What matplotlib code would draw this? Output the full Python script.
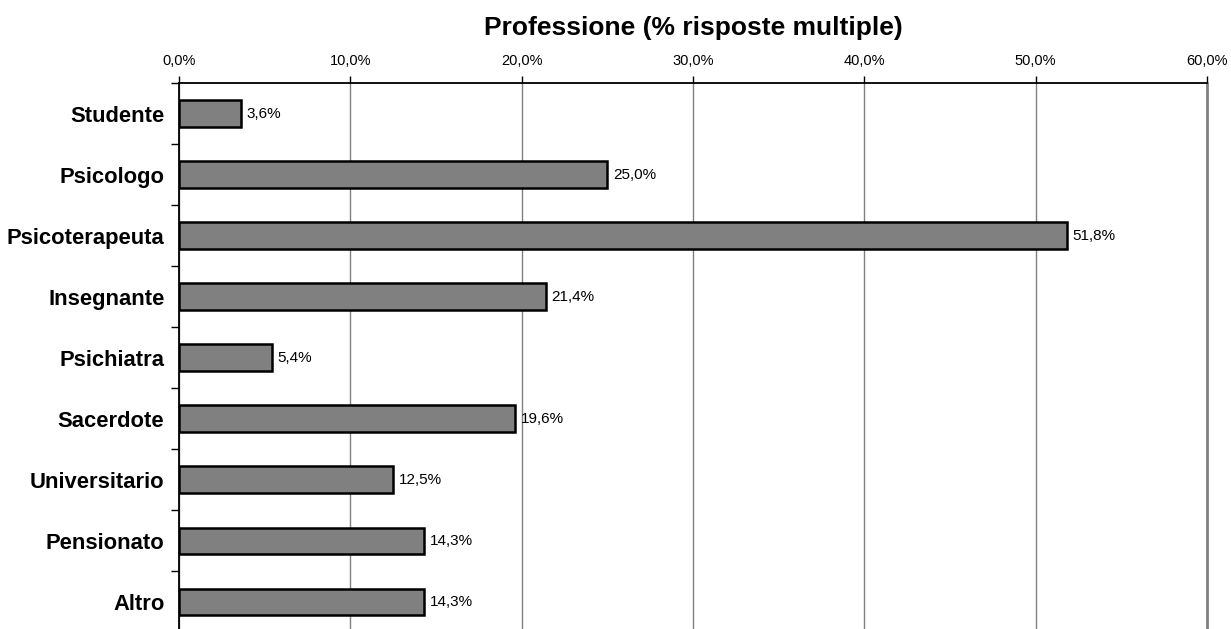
import matplotlib.pyplot as plt
import numpy as np
from matplotlib.ticker import FixedLocator

plt.rcParams['font.family'] = ['Liberation Sans', 'DejaVu Sans']

categorie = ['Studente', 'Psicologo', 'Psicoterapeuta', 'Insegnante', 'Psichiatra',
             'Sacerdote', 'Universitario', 'Pensionato', 'Altro']
valori = [3.6, 25.0, 51.8, 21.4, 5.4, 19.6, 12.5, 14.3, 14.3]
tick_x = [0, 10, 20, 30, 40, 50, 60]

fig = plt.figure(figsize=(12.31, 6.29), dpi=100)
ax = fig.add_axes([0.1454, -0.005, 0.8351, 0.873])

y = np.arange(len(categorie))
ax.barh(y, valori, height=0.43, color='#808080', edgecolor='black', linewidth=1.8, zorder=3)

for yi, v in zip(y, valori):
    ax.text(v + 0.35, yi, f'{v:.1f}%'.replace('.', ','), va='center', ha='left', fontsize=11)

ax.set_xlim(0, 60)
ax.set_ylim(len(categorie) - 0.5, -0.5)

# asse valori in alto
ax.xaxis.tick_top()
ax.set_xticks(tick_x)
ax.set_xticklabels([f'{t:.1f}%'.replace('.', ',') for t in tick_x], fontsize=10.5)
ax.tick_params(axis='x', direction='out', length=5, width=1, pad=6)
ax.grid(axis='x', color='#808080', linewidth=1, zorder=0)

# etichette categorie, tacche tra le categorie
ax.set_yticks(y)
ax.set_yticklabels(categorie, fontsize=15.8, fontweight='bold')
ax.tick_params(axis='y', which='major', length=0, pad=10.5)
ax.yaxis.set_minor_locator(FixedLocator(np.arange(-0.5, len(categorie), 1)))
ax.tick_params(axis='y', which='minor', direction='out', length=6, width=1)

ax.spines['bottom'].set_visible(False)
ax.spines['right'].set_color('#808080')
ax.spines['right'].set_linewidth(2)
ax.spines['left'].set_linewidth(1.3)
ax.spines['top'].set_linewidth(1.3)

fig.text(0.563, 0.955, 'Professione (% risposte multiple)', ha='center', va='center',
         fontsize=19, fontweight='bold')

fig.savefig('out.png', dpi=100)
